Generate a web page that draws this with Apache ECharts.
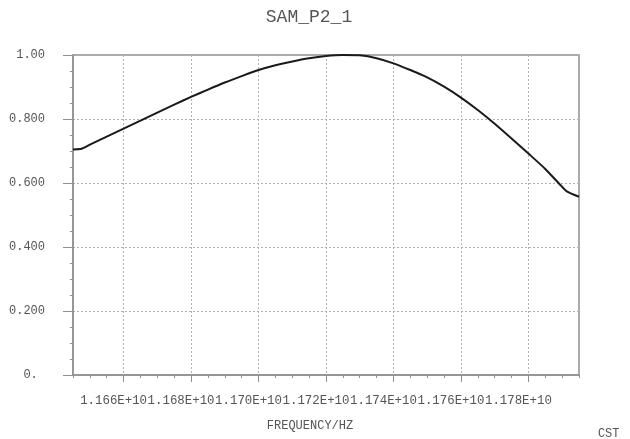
<!doctype html>
<html>
<head>
<meta charset="utf-8">
<title>SAM_P2_1</title>
<style>
	html,body{margin:0;padding:0;background:#fff;}
	#chart{width:630px;height:439px;}
</style>
</head>
<body>
	<div id="chart"></div>
	<script src="https://cdn.jsdelivr.net/npm/echarts@6/dist/echarts.min.js"></script>
	<script type="text/javascript">
		// 频率 (MHz)
		var freqMHz = [11645, 11647.5, 11650, 11655, 11660, 11665, 11670, 11675, 11680, 11685,
			11690, 11695, 11700, 11705, 11710, 11715, 11720, 11725, 11730, 11735,
			11740, 11745, 11750, 11755, 11760, 11765, 11770, 11775, 11780, 11785,
			11790, 11791.5, 11795];
		// 幅值
		var samValues = [0.705, 0.707, 0.720, 0.745, 0.770, 0.795, 0.820, 0.845, 0.869, 0.892,
			0.914, 0.934, 0.953, 0.968, 0.980, 0.990, 0.997, 1.000, 0.999, 0.990,
			0.974, 0.953, 0.930, 0.901, 0.867, 0.828, 0.785, 0.739, 0.692, 0.644,
			0.588, 0.573, 0.557];
		// 刻度
		var xTickValues = [11660, 11680, 11700, 11720, 11740, 11760, 11780];
		var yTickLabels = ['0. ', '0.200', '0.400', '0.600', '0.800', '1.00'];

		var fontMono = '"Liberation Mono", "DejaVu Sans Mono", monospace';
		var axisGray = '#8f8f8f';
		var textGray = '#555';

		var points = freqMHz.map(function(f, i){
			return [f, samValues[i]];
		});

		var chart = echarts.init(document.getElementById('chart'));
		var gridBox = {left: 73, right: 51, top: 55, bottom: 64};
		var option = {
			backgroundColor: '#fff',
			animation: false,
			grid: [
				{left: gridBox.left, right: gridBox.right, top: gridBox.top, bottom: gridBox.bottom,
					show: true, borderColor: axisGray, borderWidth: 1.5},
				{left: gridBox.left, right: gridBox.right, top: gridBox.top, bottom: gridBox.bottom}
			],
			graphic: [
				{type: 'text', x: 309, y: 17.5, style: {text: 'SAM_P2_1', font: '18px ' + fontMono,
					fill: textGray, textAlign: 'center', textVerticalAlign: 'middle'}},
				{type: 'text', x: 310, y: 426, style: {text: 'FREQUENCY/HZ', font: '12px ' + fontMono,
					fill: textGray, textAlign: 'center', textVerticalAlign: 'middle'}},
				{type: 'text', x: 619.5, y: 433.5, style: {text: 'CST', font: '12px ' + fontMono,
					fill: textGray, textAlign: 'right', textVerticalAlign: 'middle'}}
			],
			xAxis: [
				{
					type: 'value', gridIndex: 0,
					min: 11645, max: 11795, interval: 5,
					axisLine: {show: true, lineStyle: {color: axisGray, width: 1.5}},
					axisTick: {show: true, length: 3, lineStyle: {color: axisGray}},
					axisLabel: {show: false},
					splitLine: {show: false}
				},
				{
					type: 'value', gridIndex: 1,
					min: 11645, max: 11795,
					axisLine: {show: false},
					axisTick: {show: true, length: 7, customValues: xTickValues, lineStyle: {color: axisGray}},
					axisLabel: {
						show: true, customValues: xTickValues, margin: 20,
						padding: [0, 20, 0, 0],
						fontFamily: fontMono, fontSize: 12.4, color: textGray,
						formatter: function(v){
							return (v / 10000).toFixed(3) + 'E+10';
						}
					},
					splitLine: {show: true, lineStyle: {color: '#b0b0b0', type: [2, 2], width: 1}}
				}
			],
			yAxis: [
				{
					type: 'value', gridIndex: 0,
					min: 0, max: 1, interval: 0.2,
					axisLine: {show: true, lineStyle: {color: axisGray, width: 1.5}},
					axisTick: {show: true, length: 10, lineStyle: {color: axisGray}},
					minorTick: {show: true, splitNumber: 4, length: 3, lineStyle: {color: axisGray}},
					axisLabel: {
						margin: 28, fontFamily: fontMono, fontSize: 12, color: textGray,
						padding: [0, 0, 4, 0],
						formatter: function(v){
							return yTickLabels[Math.round(v / 0.2)];
						}
					},
					splitLine: {show: true, lineStyle: {color: '#b0b0b0', type: [2, 2], width: 1}}
				},
				{
					type: 'value', gridIndex: 1, min: 0, max: 1, show: false
				}
			],
			series: [{
				name: 'SAM_P2_1',
				type: 'line',
				xAxisIndex: 0,
				yAxisIndex: 0,
				data: points,
				smooth: 0.2,
				showSymbol: false,
				lineStyle: {color: '#1a1a1a', width: 2},
				z: 5
			}]
		};
		chart.setOption(option);
	</script>
</body>
</html>
